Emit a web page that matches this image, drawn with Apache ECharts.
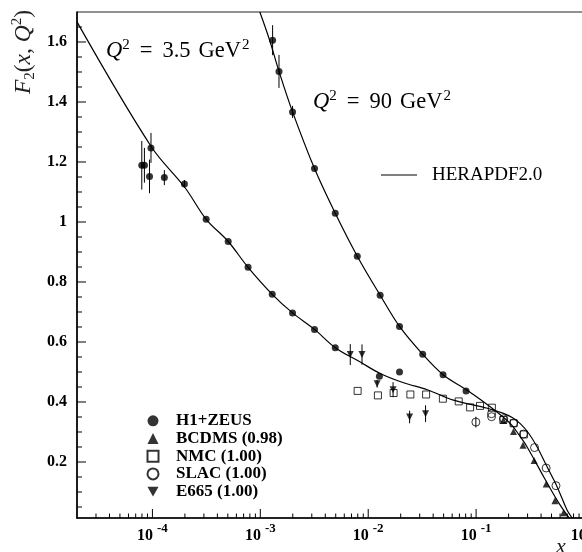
<!DOCTYPE html>
<html><head><meta charset="utf-8">
<script src="https://cdn.jsdelivr.net/npm/echarts@6/dist/echarts.min.js"></script>
<style>html,body{margin:0;padding:0;background:#fff}#c{width:582px;height:552px}</style>
</head><body><div id="c"></div>
<script>
// ---------- data ----------
const xTickValues = [1e-4, 1e-3, 1e-2, 1e-1, 1];
const xMinorTickValues = [3e-5,4e-5,5e-5,6e-5,7e-5,8e-5,9e-5,
  2e-4,3e-4,4e-4,5e-4,6e-4,7e-4,8e-4,9e-4,
  2e-3,3e-3,4e-3,5e-3,6e-3,7e-3,8e-3,9e-3,
  2e-2,3e-2,4e-2,5e-2,6e-2,7e-2,8e-2,9e-2,
  0.2,0.3,0.4,0.5,0.6,0.7,0.8,0.9];
const yTickValues = [0.2, 0.4, 0.6, 0.8, 1.0, 1.2, 1.4, 1.6];
const yMinorTickValues = [0.05,0.1,0.15,0.25,0.3,0.35,0.45,0.5,0.55,0.65,0.7,0.75,0.85,0.9,0.95,
  1.05,1.1,1.15,1.25,1.3,1.35,1.45,1.5,1.55,1.65];

const h1zeusQ35 = [[7.97e-5,1.189],[8.43e-5,1.189],[9.4e-5,1.152],[9.7e-5,1.247],[1.29e-4,1.148],
  [1.98e-4,1.127],[3.15e-4,1.009],[5.04e-4,0.935],[7.7e-4,0.849],[1.29e-3,0.759],[1.99e-3,0.697],
  [3.18e-3,0.642],[4.95e-3,0.581],[1.27e-2,0.486],[1.95e-2,0.500]];
const h1zeusQ35Err = [0.081,0.058,0.056,0.05,0.025,0.013,0,0,0,0,0,0,0,0,0];

const h1zeusQ90 = [[1.30e-3,1.606],[1.49e-3,1.502],[1.99e-3,1.367],[3.18e-3,1.178],[4.95e-3,1.029],
  [7.92e-3,0.886],[1.29e-2,0.756],[1.95e-2,0.652],[3.2e-2,0.559],[4.94e-2,0.491],[8.07e-2,0.437]];
const h1zeusQ90Err = [0.05,0.055,0.02,0,0,0,0,0,0,0,0];

const bcdms = [[0.179,0.339],[0.222,0.302],[0.272,0.256],[0.345,0.205],[0.446,0.127],[0.538,0.071],[0.646,0.031]];
const nmc = [[7.98e-3,0.437],[1.23e-2,0.422],[1.72e-2,0.430],[2.46e-2,0.425],[3.44e-2,0.425],[4.92e-2,0.411],
  [6.9e-2,0.402],[8.8e-2,0.382],[0.1087,0.387],[0.140,0.381],[0.179,0.340],[0.223,0.329],[0.277,0.292]];
const slac = [[0.0995,0.333],[0.139,0.361],[0.139,0.351],[0.180,0.344],[0.223,0.330],[0.275,0.293],
  [0.348,0.248],[0.446,0.180],[0.550,0.121]];
const slacErr = [0.018,0,0,0,0,0,0,0,0];
const e665 = [[6.82e-3,0.558],[8.76e-3,0.558],[1.21e-2,0.461],[1.70e-2,0.441],[2.42e-2,0.350],[3.4e-2,0.361]];
const e665Err = [0.035,0.034,0.013,0.025,0.021,0.028];

const curveQ35 = [[2e-5,1.667],[9.8e-5,1.25],[2e-4,1.115],[3.15e-4,1.009],[5.04e-4,0.935],[7.7e-4,0.849],
  [1.29e-3,0.759],[1.99e-3,0.697],[3.18e-3,0.642],[4.95e-3,0.581],[8.45e-3,0.533],[1.29e-2,0.495],
  [2.13e-2,0.464],[3.52e-2,0.441],[6.17e-2,0.406],[0.127,0.379],[0.179,0.362],[0.216,0.348],[0.258,0.327],
  [0.308,0.295],[0.368,0.250],[0.456,0.183],[0.564,0.117],[0.698,0.039],[0.776,0.0133]];
const curveQ90 = [[9.9e-4,1.70],[1.22e-3,1.606],[1.49e-3,1.502],[1.99e-3,1.367],[3.18e-3,1.178],
  [4.95e-3,1.029],[7.92e-3,0.886],[1.29e-2,0.756],[1.95e-2,0.652],[3.2e-2,0.559],[4.94e-2,0.491],
  [8.26e-2,0.439],[0.136,0.383],[0.208,0.328],[0.248,0.292],[0.297,0.250],[0.424,0.150],[0.564,0.072],
  [0.698,0.022],[0.73,0.0133]];

// ---------- chart ----------
const FONT = 'Liberation Serif';
const X_MIN = 2e-5, X_MAX = 1, Y_MIN = 0.0133, Y_MAX = 1.7;
function errData(pts, errs) {
  const out = [];
  pts.forEach((p, i) => { if (errs[i] > 0) out.push([p[0], p[1] - errs[i], p[1] + errs[i]]); });
  return out;
}
const errorBars = errData(h1zeusQ35, h1zeusQ35Err)
  .concat(errData(h1zeusQ90, h1zeusQ90Err))
  .concat(errData(slac, slacErr))
  .concat(errData(e665, e665Err));

// tick marks: [x, y, length]
const xTickMarks = xTickValues.map(v => [v, Y_MIN, 9]).concat(xMinorTickValues.map(v => [v, Y_MIN, 4.5]));
const yTickMarks = yTickValues.map(v => [X_MIN, v, 9]).concat(yMinorTickValues.map(v => [X_MIN, v, 5]));

const chart = echarts.init(document.getElementById('c'), null, {renderer: 'canvas'});
const black = '#000';
const downTri = 'path://M0,0L2,0L1,1.8Z';

const richTitle = {
  i: {fontFamily: FONT, fontStyle: 'italic', fontSize: 22.5, lineHeight: 26, fill: black},
  s: {fontFamily: FONT, fontSize: 15, lineHeight: 15, verticalAlign: 'top', fill: black},
  e: {fontFamily: FONT, fontSize: 22.5, lineHeight: 26, padding: [0, 10, 0, 10], fill: black},
  n: {fontFamily: FONT, fontSize: 22.5, lineHeight: 26, fill: black},
  g: {fontFamily: FONT, fontSize: 22.5, lineHeight: 26, padding: [0, 1, 0, 8], fill: black}
};

const option = {
  animation: false,
  backgroundColor: '#fff',
  grid: {left: 77, top: 12, width: 507, height: 506, show: true, borderColor: '#222', borderWidth: 1,
    backgroundColor: 'transparent', outerBoundsMode: 'none', containLabel: false},
  xAxis: [{
    type: 'log', logBase: 10, min: X_MIN, max: X_MAX, position: 'bottom',
    axisLine: {lineStyle: {color: black, width: 1.6}},
    axisTick: {show: false},
    axisLabel: {
      customValues: xTickValues, margin: 4, color: black, hideOverlap: false,
      formatter: v => '{b|10}{s|' + Math.round(Math.log10(v)) + '}',
      rich: {
        b: {fontFamily: FONT, fontWeight: 'bold', fontSize: 16, lineHeight: 22, verticalAlign: 'bottom', color: black},
        s: {fontFamily: FONT, fontWeight: 'bold', fontSize: 13, lineHeight: 13, verticalAlign: 'top', padding: [0,0,0,4], color: black}
      }
    },
    splitLine: {show: false}
  }],
  yAxis: [{
    type: 'value', min: Y_MIN, max: Y_MAX, position: 'left',
    axisLine: {lineStyle: {color: black, width: 1.6}},
    axisTick: {show: false},
    axisLabel: {
      customValues: yTickValues, margin: 10, color: black,
      fontFamily: FONT, fontWeight: 'bold', fontSize: 16,
      formatter: v => (Math.abs(v - 1) < 1e-9 ? '1' : v.toFixed(1))
    },
    splitLine: {show: false}
  }],
  legend: [{
    data: ['H1+ZEUS', 'BCDMS (0.98)', 'NMC (1.00)', 'SLAC (1.00)', 'E665 (1.00)'],
    orient: 'vertical', left: 146.5, top: 412.3, padding: 0,
    itemWidth: 11, itemHeight: 11, itemGap: 0.7, selectedMode: false,
    textStyle: {fontFamily: FONT, fontWeight: 'bold', fontSize: 17, color: black, padding: [0,0,0,12.5]}
  }, {
    data: [{name: 'HERAPDF2.0', icon: 'rect'}],
    left: 381, top: 165, padding: 0, itemWidth: 36, itemHeight: 1.2, selectedMode: false,
    textStyle: {fontFamily: FONT, fontSize: 19, color: black, lineHeight: 20, padding: [0,0,0,10]}
  }],
  graphic: [
    {type: 'text', left: 106, top: 38, style: {text: '{i|Q}{s|2}{e|=}{n|3.5}{g|GeV}{s|2}', rich: richTitle}},
    {type: 'text', left: 313, top: 89, style: {text: '{i|Q}{s|2}{e|=}{n|90}{g|GeV}{s|2}', rich: richTitle}},
    {type: 'text', x: 24, y: 52, rotation: Math.PI / 2, style: {
      text: '{i|F}{b|2}{n|(}{i|x}{n|, }{i|Q}{s|2}{n|)}',
      align: 'center', verticalAlign: 'middle',
      rich: {
        i: {fontFamily: FONT, fontStyle: 'italic', fontSize: 23.5, lineHeight: 28, fill: '#222'},
        n: {fontFamily: FONT, fontSize: 23.5, lineHeight: 28, fill: '#222'},
        b: {fontFamily: FONT, fontSize: 15, lineHeight: 15, verticalAlign: 'bottom', fill: '#222'},
        s: {fontFamily: FONT, fontSize: 15, lineHeight: 15, verticalAlign: 'top', fill: '#222'}
      }}},
    {type: 'text', left: 556, top: 536, style: {text: 'x', font: 'italic 22px ' + FONT, fill: '#222'}}
  ],
  series: [
    {name: 'xticks', type: 'custom', data: xTickMarks, z: 5, silent: true, clip: false,
      encode: {x: 0, y: 1},
      renderItem: (params, api) => {
        const p = api.coord([api.value(0), api.value(1)]);
        return {type: 'line', shape: {x1: p[0], y1: p[1], x2: p[0], y2: p[1] - api.value(2)},
          style: {stroke: black, lineWidth: 1}};
      }},
    {name: 'yticks', type: 'custom', data: yTickMarks, z: 5, silent: true, clip: false,
      encode: {x: 0, y: 1},
      renderItem: (params, api) => {
        const p = api.coord([api.value(0), api.value(1)]);
        return {type: 'line', shape: {x1: p[0], y1: p[1], x2: p[0] + api.value(2), y2: p[1]},
          style: {stroke: black, lineWidth: 1}};
      }},
    {name: 'HERAPDF2.0', type: 'line', data: curveQ35, showSymbol: false, symbol: 'none', smooth: 0.35,
      color: black, lineStyle: {color: black, width: 1.2}, z: 2},
    {name: 'HERAPDF2.0', type: 'line', data: curveQ90, showSymbol: false, symbol: 'none', smooth: 0.35,
      color: black, lineStyle: {color: black, width: 1.2}, z: 2},
    {name: 'errors', type: 'custom', data: errorBars, z: 3,
      encode: {x: 0, y: [1, 2]},
      renderItem: (params, api) => {
        const a = api.coord([api.value(0), api.value(1)]);
        const b = api.coord([api.value(0), api.value(2)]);
        return {type: 'line', shape: {x1: a[0], y1: a[1], x2: b[0], y2: b[1]}, style: {stroke: black, lineWidth: 1}};
      }},
    {name: 'H1+ZEUS', type: 'scatter', data: h1zeusQ35.concat(h1zeusQ90), symbol: 'circle', symbolSize: 7,
      itemStyle: {color: black}, z: 4},
    {name: 'BCDMS (0.98)', type: 'scatter', data: bcdms, symbol: 'triangle', symbolSize: 7,
      itemStyle: {color: black}, z: 4},
    {name: 'NMC (1.00)', type: 'scatter', data: nmc, symbol: 'rect', symbolSize: 7,
      itemStyle: {color: 'transparent', borderColor: black, borderWidth: 1}, z: 4},
    {name: 'SLAC (1.00)', type: 'scatter', data: slac, symbol: 'circle', symbolSize: 8,
      itemStyle: {color: 'transparent', borderColor: black, borderWidth: 1}, z: 4},
    {name: 'E665 (1.00)', type: 'scatter', data: e665, symbol: downTri, symbolSize: 7,
      itemStyle: {color: black}, z: 4}
  ]
};
chart.setOption(option);
</script></body></html>
